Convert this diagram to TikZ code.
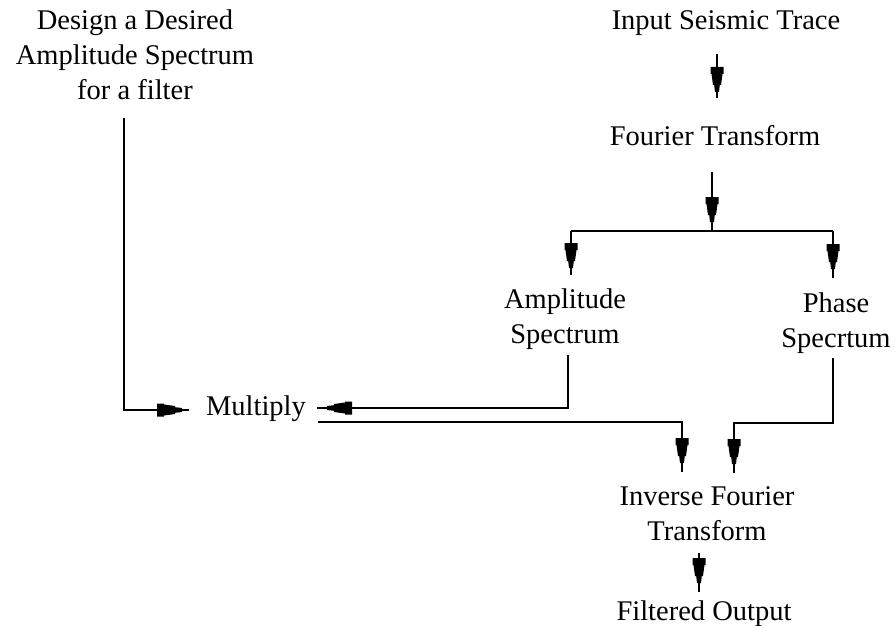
\documentclass[tikz,border=0pt]{standalone}
\usepackage{fontspec}
\setmainfont{Liberation Serif}
\usetikzlibrary{decorations.markings}
\tikzset{
  lbl/.style={inner sep=0pt, anchor=base, font=\fontsize{28.5}{35}\selectfont},
  conn/.style={line width=1.3pt, line join=miter},
  midarrow/.style={conn, postaction={decorate}, decoration={markings, mark=at position -#1 with {\fill[black] (-25pt,6.5pt) -- (-18pt,6.5pt) -- (-18pt,5.5pt) -- (-7pt,4pt) -- (-7pt,2.8pt) -- (0pt,2pt) -- (0pt,-2pt) -- (-7pt,-2.8pt) -- (-7pt,-4pt) -- (-18pt,-5.5pt) -- (-18pt,-6.5pt) -- (-25pt,-6.5pt) -- cycle;}}},
  midarrow/.default=8pt
}
\newcommand{\mlines}[1]{\begin{tabular}[t]{@{}c@{}}#1\end{tabular}}
\begin{document}
\begin{tikzpicture}[x=1pt,y=-1pt]
\useasboundingbox (0,0) rectangle (895,626);
% text nodes
\node[lbl] (design) at (135,30) {\mlines{Design a Desired\\Amplitude Spectrum\\for a filter}};
\node[lbl] (input) at (726,30) {Input Seismic Trace};
\node[lbl] (fourier) at (715,146) {Fourier Transform};
\node[lbl] (amp) at (565,308) {\mlines{Amplitude\\Spectrum}};
\node[lbl] (phase) at (836,312) {\mlines{Phase\\Specrtum}};
\node[lbl] (multiply) at (256,415) {Multiply};
\node[lbl] (ift) at (707,505) {\mlines{Inverse Fourier\\Transform}};
\node[lbl] (out) at (704,620) {Filtered Output};
% connector points
\coordinate (d0) at (124,118);
\coordinate (d1) at (124,410);
\coordinate (d2) at (189,410);
\coordinate (i0) at (717,54);
\coordinate (i1) at (717,98);
\coordinate (f0) at (712,172);
\coordinate (jn) at (712,231);
\coordinate (jl) at (571,231);
\coordinate (jr) at (833,231);
\coordinate (al) at (571,275);
\coordinate (pr) at (833,278);
\coordinate (a0) at (568,355);
\coordinate (a1) at (568,408);
\coordinate (a2) at (317,408);
\coordinate (m0) at (318,422);
\coordinate (m1) at (682,422);
\coordinate (m2) at (682,472);
\coordinate (p0) at (833,358);
\coordinate (p1) at (833,423);
\coordinate (p2) at (734,423);
\coordinate (p3) at (734,473);
\coordinate (o0) at (699,553);
\coordinate (o1) at (699,592);
% connectors
\draw[midarrow=7pt] (d0) -- (d1) -- (d2);
\draw[midarrow=6pt] (i0) -- (i1);
\draw[midarrow=9pt] (f0) -- (jn);
\draw[conn] (jl) -- (jr);
\draw[midarrow=7pt] (jl) -- (al);
\draw[midarrow=9pt] (jr) -- (pr);
\draw[midarrow=10pt] (a0) -- (a1) -- (a2);
\draw[midarrow=9pt] (m0) -- (m1) -- (m2);
\draw[midarrow=9pt] (p0) -- (p1) -- (p2) -- (p3);
\draw[midarrow=9pt] (o0) -- (o1);
\end{tikzpicture}
\end{document}
